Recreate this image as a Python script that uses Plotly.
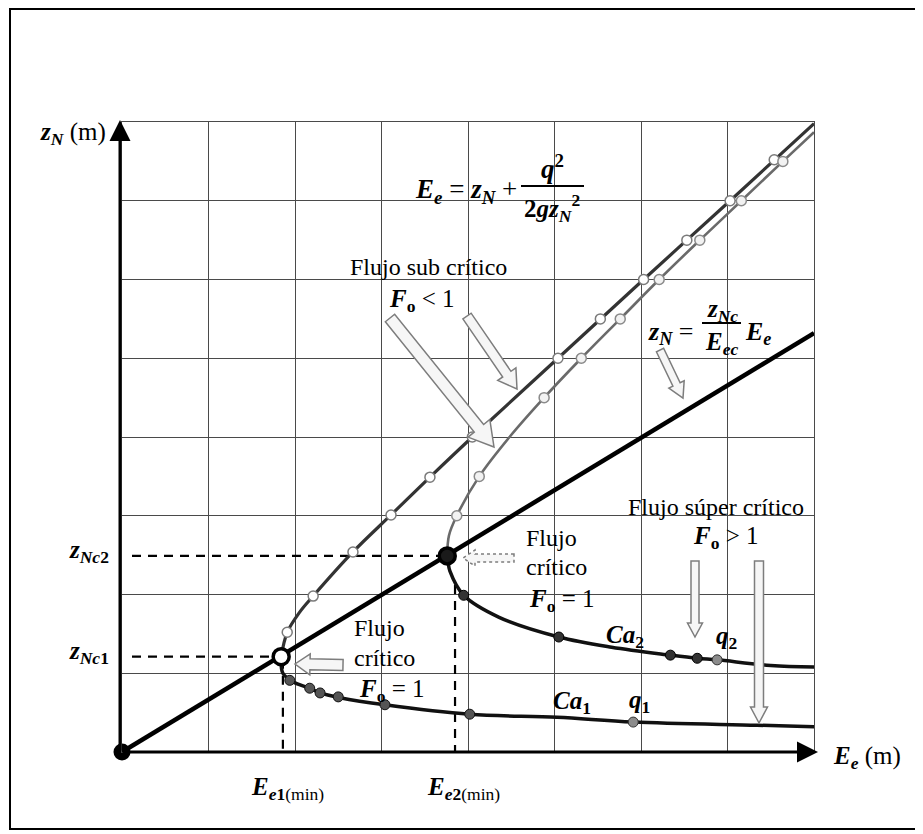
import math
import plotly.graph_objects as go

# ---------------- data (grid units) ----------------
crit_line_E = [0.0, 8.0]
crit_line_z = [0.0, 5.32]

# q1 : supercritical (lower) and subcritical (upper) branches
q1_sup_E = [1.84, 1.86, 1.98, 2.17, 2.29, 2.52, 3.04, 4.02, 5.03, 5.91, 7.34, 8.03]
q1_sup_z = [1.21, 1.00, 0.89, 0.81, 0.75, 0.69, 0.60, 0.48, 0.44, 0.38, 0.34, 0.32]
q1_sub_E = [1.84, 1.91, 2.05, 2.21, 2.67, 3.11, 3.56, 4.05, 5.04, 6.03, 7.03, 8.00]
q1_sub_z = [1.21, 1.52, 1.77, 1.98, 2.54, 3.01, 3.49, 4.00, 5.00, 6.00, 7.00, 7.98]

# q2 : supercritical (lower) and subcritical (upper) branches
q2_sup_E = [3.76, 3.77, 3.79, 3.95, 4.36, 5.05, 5.66, 6.34, 6.65, 6.88, 7.50, 8.03]
q2_sup_z = [2.49, 2.41, 2.30, 1.99, 1.71, 1.46, 1.33, 1.23, 1.19, 1.17, 1.10, 1.08]
q2_sub_E = [3.76, 3.78, 3.87, 4.13, 4.48, 4.88, 5.31, 5.76, 6.21, 6.68, 7.16, 7.64, 8.00]
q2_sub_z = [2.49, 2.75, 3.00, 3.50, 4.00, 4.50, 5.00, 5.50, 6.00, 6.50, 7.00, 7.50, 7.87]

# marked points on the curves
q1_sub_mk_E = [1.91, 2.21, 2.67, 3.11, 3.56, 4.05, 5.04, 5.53, 6.03, 6.53, 7.03, 7.54]
q1_sub_mk_z = [1.52, 1.98, 2.54, 3.01, 3.49, 4.00, 5.00, 5.50, 6.00, 6.50, 7.00, 7.52]
q2_sub_mk_E = [3.87, 4.13, 4.88, 5.31, 5.76, 6.21, 6.68, 7.16, 7.64]
q2_sub_mk_z = [3.00, 3.50, 4.50, 5.00, 5.50, 6.00, 6.50, 7.00, 7.50]
q1_sup_mk_E = [1.94, 2.17, 2.29, 2.50, 3.04, 4.02]
q1_sup_mk_z = [0.91, 0.81, 0.75, 0.70, 0.60, 0.48]
q2_sup_mk_E = [3.95, 5.05, 6.34, 6.65]
q2_sup_mk_z = [1.99, 1.46, 1.23, 1.19]
q_pts_E = [5.91, 6.88]
q_pts_z = [0.38, 1.17]

# critical points and minimum energies
crit_E = [1.84, 3.76]
crit_z = [1.21, 2.49]
emin_E = [1.86, 3.85]
emin_top_z = [1.17, 2.12]

# ---------------- helpers (page pixels -> paper / grid units) ----------------
# the page body has an 8px margin, so the figure is 8px smaller than the window
OFF = 8
PW, PH = 692.0, 630.0


def PX(p):
    return (p - 122) / PW


def PY(p):
    return (752 - p) / PH


def X(p):
    return (p - 122) / 86.5


fig = go.Figure()

# dashed guide lines
for e, z, em, top in zip(crit_E, crit_z, emin_E, emin_top_z):
    fig.add_trace(go.Scatter(x=[X(132), e], y=[z, z], mode="lines",
                             line=dict(color="black", width=2.2, dash="9px,7px"),
                             hoverinfo="skip", showlegend=False))
    fig.add_trace(go.Scatter(x=[em, em], y=[top, 0], mode="lines",
                             line=dict(color="black", width=2.2, dash="9px,7px"),
                             hoverinfo="skip", showlegend=False))

# critical line
fig.add_trace(go.Scatter(x=crit_line_E, y=crit_line_z, mode="lines",
                         line=dict(color="black", width=4.5), showlegend=False))

# curves
fig.add_trace(go.Scatter(x=q1_sub_E, y=q1_sub_z, mode="lines", line_shape="spline",
                         line=dict(color="#333333", width=3.2), showlegend=False))
fig.add_trace(go.Scatter(x=q2_sub_E, y=q2_sub_z, mode="lines", line_shape="spline",
                         line=dict(color="#6a6a6a", width=2.6), showlegend=False))
fig.add_trace(go.Scatter(x=q1_sup_E, y=q1_sup_z, mode="lines", line_shape="spline",
                         line=dict(color="#111111", width=3.5), showlegend=False))
fig.add_trace(go.Scatter(x=q2_sup_E, y=q2_sup_z, mode="lines", line_shape="spline",
                         line=dict(color="#111111", width=3.5), showlegend=False))

# markers
fig.add_trace(go.Scatter(x=q1_sub_mk_E, y=q1_sub_mk_z, mode="markers",
                         marker=dict(symbol="circle", size=10, color="white",
                                     line=dict(color="#7a7a7a", width=1.5)), showlegend=False))
fig.add_trace(go.Scatter(x=q2_sub_mk_E, y=q2_sub_mk_z, mode="markers",
                         marker=dict(symbol="circle", size=10, color="#f2f2f2",
                                     line=dict(color="#8a8a8a", width=1.5)), showlegend=False))
fig.add_trace(go.Scatter(x=q1_sup_mk_E, y=q1_sup_mk_z, mode="markers",
                         marker=dict(symbol="circle", size=10, color="#555555",
                                     line=dict(color="#111", width=1)), showlegend=False))
fig.add_trace(go.Scatter(x=q2_sup_mk_E, y=q2_sup_mk_z, mode="markers",
                         marker=dict(symbol="circle", size=10, color="#333333",
                                     line=dict(color="#000", width=1)), showlegend=False))
fig.add_trace(go.Scatter(x=q_pts_E, y=q_pts_z, mode="markers",
                         marker=dict(symbol="circle", size=10, color="#8c8c8c",
                                     line=dict(color="#333", width=1)), showlegend=False))

# critical points
fig.add_trace(go.Scatter(x=crit_E, y=crit_z, mode="markers",
                         marker=dict(symbol="circle", size=16, color=["white", "#1a1a1a"],
                                     line=dict(color="black", width=3.5)), showlegend=False))
# origin
fig.add_trace(go.Scatter(x=[0], y=[0], mode="markers", cliponaxis=False,
                         marker=dict(symbol="circle", size=17, color="black"), showlegend=False))

# ---------------- annotations ----------------
FONT = "Liberation Serif"
ann = []


def text(t, xp, yp, size=24, xanchor="center", yanchor="middle"):
    ann.append(dict(text=t, x=PX(xp), y=PY(yp), xref="paper", yref="paper", showarrow=False,
                    xanchor=xanchor, yanchor=yanchor,
                    font=dict(family=FONT, size=size, color="black")))


def bi(s):
    return "<b><i>" + s + "</i></b>"


# axis titles
text(bi("z") + "<sub>" + bi("N") + "</sub> (m)", 108, 133, 25, "right")
text(bi("E") + "<sub>" + bi("e") + "</sub> (m)", 831, 757, 25, "left")
text(bi("E") + "<sub>" + bi("e") + "<b>1</b>(min)</sub>", 287, 788, 25)
text(bi("E") + "<sub>" + bi("e") + "<b>2</b>(min)</sub>", 463, 788, 25)
text(bi("z") + "<sub>" + bi("Nc") + "<b>2</b></sub>", 111, 551, 25, "right")
text(bi("z") + "<sub>" + bi("Nc") + "<b>1</b></sub>", 111, 652, 25, "right")

# energy equation
text(bi("E") + "<sub>" + bi("e") + "</sub> = " + bi("z") + "<sub>" + bi("N") + "</sub> +",
     519, 191, 27, "right")
text(bi("q") + "<sup><b>2</b></sup>", 552, 167, 27)
text("<b>2</b>" + bi("gz") + "<sub>" + bi("N") + "</sub><sup><b>2</b></sup>", 552, 208, 25)

# critical line equation
text(bi("z") + "<sub>" + bi("N") + "</sub> =", 695, 333, 26, "right")
text(bi("z") + "<sub>" + bi("Nc") + "</sub>", 722, 310, 25)
text(bi("E") + "<sub>" + bi("ec") + "</sub>", 721, 343, 25)
text(bi("E") + "<sub>" + bi("e") + "</sub>", 743, 333, 26, "left")

# regime labels
text("Flujo sub crítico", 428, 267, 24)
text(bi("F") + "<sub><b>o</b></sub> &lt; 1", 422, 300, 25)
text("Flujo súper crítico", 716, 507, 24)
text(bi("F") + "<sub><b>o</b></sub> &gt; 1", 726, 537, 25)
text("Flujo", 524, 538, 24, "left")
text("crítico", 524, 567, 24, "left")
text(bi("F") + "<sub><b>o</b></sub> = 1", 527, 600, 25, "left")
text("Flujo", 352, 628, 24, "left")
text("crítico", 352, 658, 24, "left")
text(bi("F") + "<sub><b>o</b></sub> = 1", 357, 690, 25, "left")

# curve labels
text(bi("Ca") + "<sub><b>2</b></sub>", 625, 636, 25)
text(bi("q") + "<sub><b>2</b></sub>", 726, 637, 25)
text(bi("Ca") + "<sub><b>1</b></sub>", 572, 702, 25)
text(bi("q") + "<sub><b>1</b></sub>", 639, 701, 25)

# axes with arrow heads (pixel offsets for the tails)
ann.append(dict(x=PX(818), y=PY(752), xref="paper", yref="paper", axref="pixel", ayref="pixel",
                ax=-(818 - 121), ay=0, text="", showarrow=True, arrowhead=2, arrowsize=1.4,
                arrowwidth=3, arrowcolor="black"))
ann.append(dict(x=PX(120), y=PY(120), xref="paper", yref="paper", axref="pixel", ayref="pixel",
                ax=0, ay=(752 - 120), text="", showarrow=True, arrowhead=2, arrowsize=1.4,
                arrowwidth=3, arrowcolor="black"))


# ---------------- shapes ----------------
def block_arrow(x0, y0, x1, y1, w, hw, hl, dash="solid"):
    L = math.hypot(x1 - x0, y1 - y0)
    ux, uy = (x1 - x0) / L, (y1 - y0) / L
    nx, ny = -uy, ux
    bx, by = x1 - ux * hl, y1 - uy * hl
    pts = [
        (x0 + nx * w / 2, y0 + ny * w / 2),
        (bx + nx * w / 2, by + ny * w / 2),
        (bx + nx * hw / 2, by + ny * hw / 2),
        (x1, y1),
        (bx - nx * hw / 2, by - ny * hw / 2),
        (bx - nx * w / 2, by - ny * w / 2),
        (x0 - nx * w / 2, y0 - ny * w / 2),
    ]
    path = "M " + " L ".join("%.5f,%.5f" % (PX(a), PY(b)) for a, b in pts) + " Z"
    return dict(type="path", xref="paper", yref="paper", path=path,
                fillcolor="#f6f6f6", line=dict(color="#7d7d7d", width=1.5, dash=dash),
                layer="above")


shapes = [
    dict(type="rect", xref="paper", yref="paper",
         x0=PX(10), x1=PX(917), y0=PY(829), y1=PY(9),
         line=dict(color="black", width=2)),
    dict(type="line", xref="paper", yref="paper", x0=PX(521), x1=PX(584), y0=PY(186), y1=PY(186),
         line=dict(color="black", width=2)),
    dict(type="line", xref="paper", yref="paper", x0=PX(702), x1=PX(741), y0=PY(323), y1=PY(323),
         line=dict(color="black", width=2)),
    block_arrow(390, 318, 494, 447, 12, 28, 24),
    block_arrow(467, 316, 517, 389, 10, 22, 18),
    block_arrow(660, 350, 683, 398, 8, 17, 15),
    block_arrow(343, 665, 295, 664, 11, 21, 15),
    block_arrow(514, 558, 463, 558, 8, 16, 12, dash="dot"),
    block_arrow(695, 561, 695, 637, 8, 15, 14),
    block_arrow(759, 561, 759, 723, 9, 17, 16),
]

fig.update_layout(
    width=923 - OFF, height=834 - OFF,
    margin=dict(l=122 - OFF, r=923 - 814, t=122 - OFF, b=834 - 752),
    paper_bgcolor="white", plot_bgcolor="white",
    showlegend=False,
    annotations=ann, shapes=shapes,
    xaxis=dict(range=[0, 8], dtick=1, tick0=0, showticklabels=False, ticks="",
               showgrid=True, gridcolor="#4a4a4a", gridwidth=1.2, zeroline=False,
               showline=True, mirror=True, linecolor="#4a4a4a", linewidth=1.2),
    yaxis=dict(range=[0, 8], dtick=1, tick0=0, showticklabels=False, ticks="",
               showgrid=True, gridcolor="#4a4a4a", gridwidth=1.2, zeroline=False,
               showline=True, mirror=True, linecolor="#4a4a4a", linewidth=1.2),
)

fig.write_html("out.html")
